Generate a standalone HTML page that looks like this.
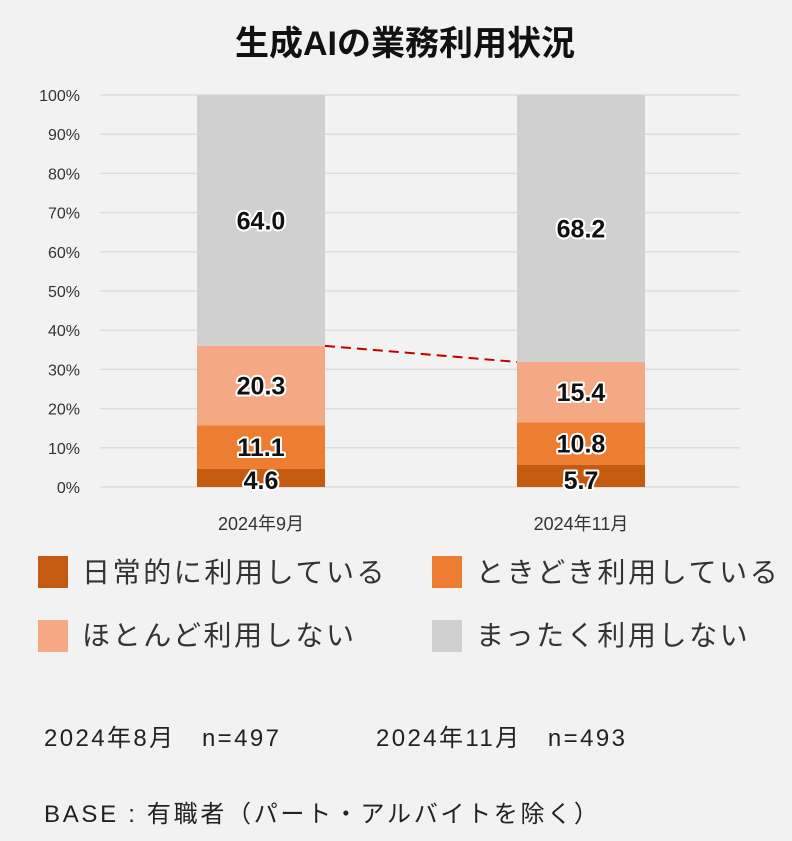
<!DOCTYPE html>
<html><head><meta charset="utf-8"><style>
body{margin:0;background:#f2f2f2;}
svg{display:block;font-family:"Liberation Sans","Noto Sans CJK JP",sans-serif;}
</style></head><body>
<svg width="792" height="841">
<rect width="792" height="841" fill="#f2f2f2"/>
<text x="405" y="55" text-anchor="middle" font-size="34" font-weight="bold" fill="#111">生成AIの業務利用状況</text>
<g id="grid"></g><g id="bars"></g><g id="labels"></g>
<g font-size="28" letter-spacing="2.6" fill="#333">
<rect x="38" y="556" width="30" height="32" fill="#c55a11"/>
<text x="82" y="582">日常的に利用している</text>
<rect x="432" y="556" width="30" height="32" fill="#ed7d31"/>
<text x="476" y="582">ときどき利用している</text>
<rect x="38" y="620" width="30" height="32" fill="#f4a984"/>
<text x="82" y="645">ほとんど利用しない</text>
<rect x="432" y="620" width="30" height="32" fill="#d0d0d0"/>
<text x="476" y="645">まったく利用しない</text>
</g>
<text x="44" y="746" font-size="24" letter-spacing="2.4" fill="#222">2024年8月　n=497</text>
<text x="376" y="746" font-size="24" letter-spacing="2.4" fill="#222">2024年11月　n=493</text>
<text x="44" y="822" font-size="24" letter-spacing="2.7" fill="#222">BASE : 有職者（パート・アルバイトを除く）</text>
</svg>
<script>
const categories=["2024年9月","2024年11月"];
const daily=[4.6,5.7];
const sometimes=[11.1,10.8];
const rarely=[20.3,15.4];
const never=[64.0,68.2];
const yTicks=[0,10,20,30,40,50,60,70,80,90,100];
const NS="http://www.w3.org/2000/svg";
const y0=487,y1=95,left=100,right=740;
const yS=v=>y0-(y0-y1)*v/100;
const xC=i=>261+i*320;
const bw=128;
function mk(t,a,p){const e=document.createElementNS(NS,t);for(const k in a)e.setAttribute(k,a[k]);p.appendChild(e);return e;}
const grid=document.getElementById('grid'),bars=document.getElementById('bars'),labels=document.getElementById('labels');
yTicks.forEach(v=>{
 const l=mk('line',{x1:left,x2:right,y1:yS(v),y2:yS(v),stroke:'#dcdcdc','stroke-width':1.5},grid);
 
 
 const t=mk('text',{x:80,y:yS(v)+6,'text-anchor':'end','font-size':16,fill:'#333'},grid);
 t.textContent=v+'%';
 
 
});
const series=[[daily,'#c55a11','daily'],[sometimes,'#ed7d31','sometimes'],[rarely,'#f4a984','rarely'],[never,'#d0d0d0','never']];
const tops=[];
categories.forEach((c,i)=>{
 let cum=0;
 series.forEach(([arr,col,nm],si)=>{
  const v=arr[i];
  const yt=yS(cum+v),yb=yS(cum);
  const r=mk('rect',{x:xC(i)-bw/2,y:yt,width:bw,height:yb-yt,fill:col},bars);
  
  
  const ly=si===0?yb+2:(yt+yb)/2+9;
  const t=mk('text',{x:xC(i),y:ly,'text-anchor':'middle','font-size':25,'font-weight':'bold',fill:'#111',stroke:'#fff','stroke-width':4,'paint-order':'stroke','stroke-linejoin':'round'},labels);
  t.textContent=v.toFixed(1);
  
  
  cum+=v;
  if(si===2)tops.push(yt);
 });
 const xl=mk('text',{x:xC(i),y:530,'text-anchor':'middle','font-size':18,fill:'#333'},labels);
 xl.textContent=c;
 
 
});
const dl=mk('line',{x1:xC(0)+bw/2,y1:tops[0],x2:xC(1)-bw/2,y2:tops[1],stroke:'#c00000','stroke-width':2,'stroke-dasharray':'10,6'},labels);


</script>
</body></html>
